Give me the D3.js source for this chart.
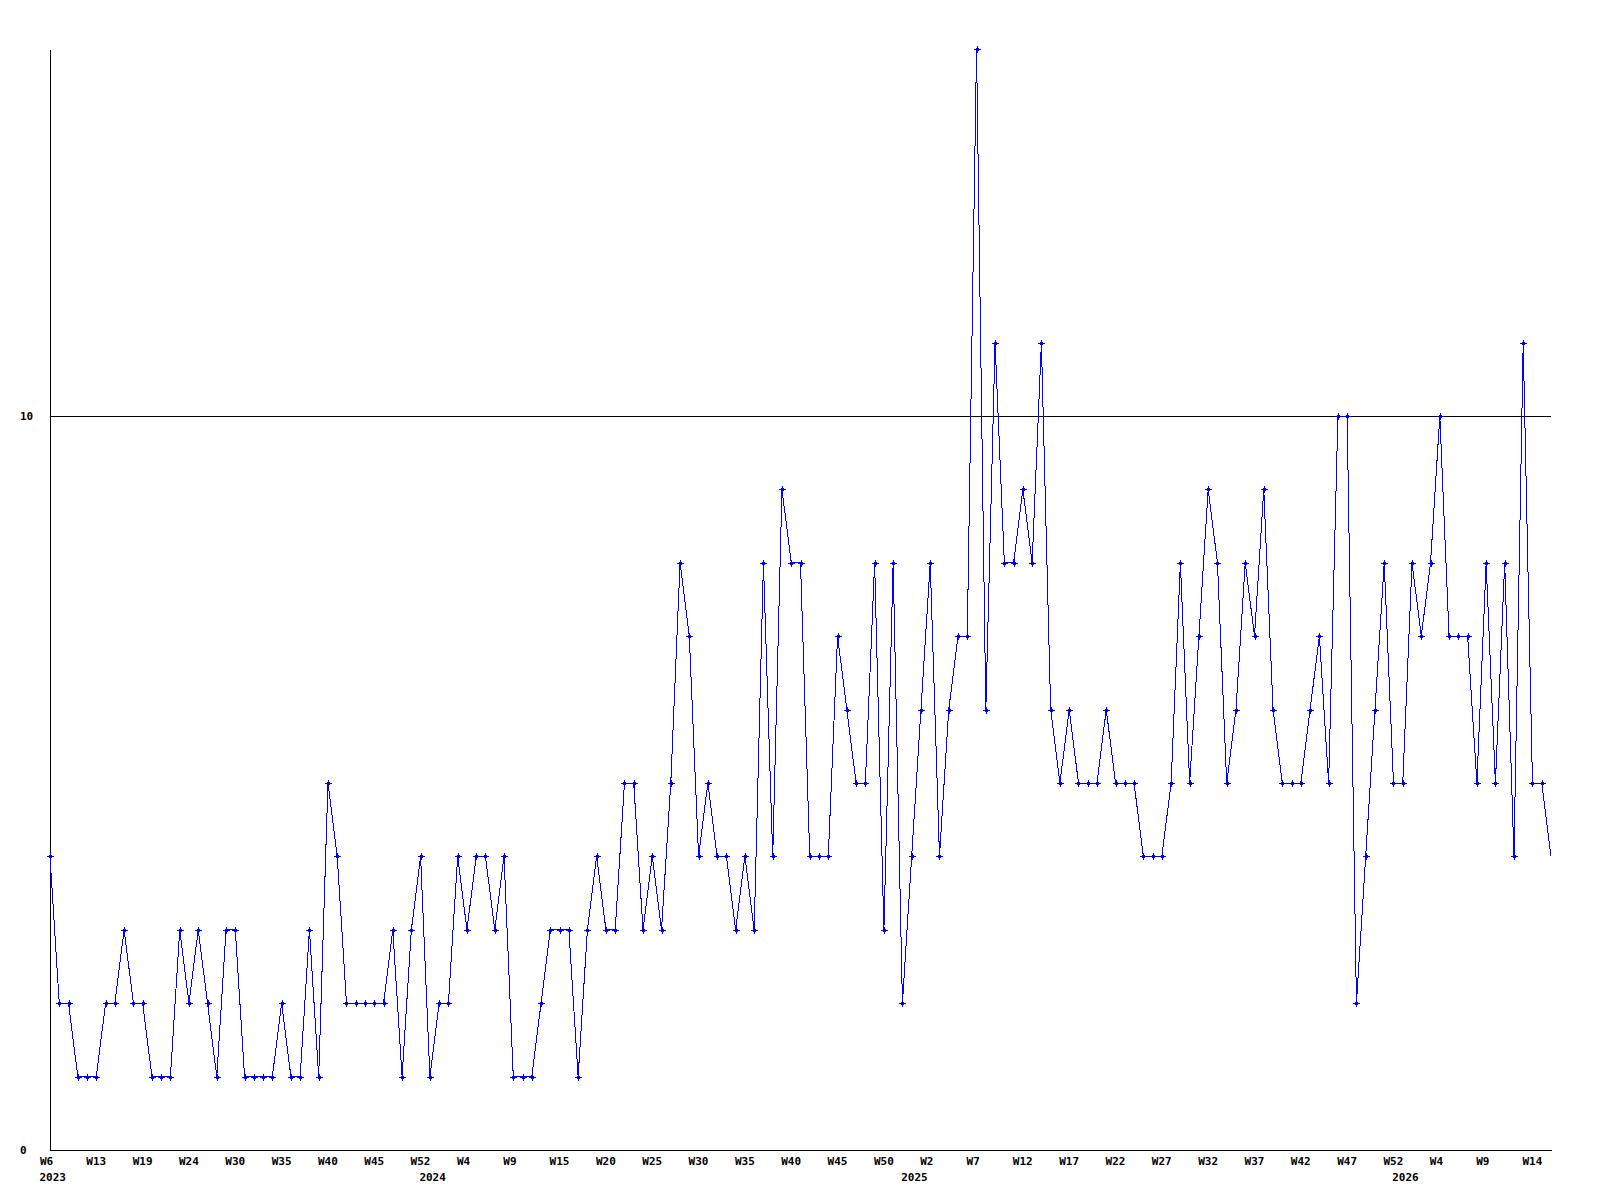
<!DOCTYPE html>
<html>
<head>
<meta charset="utf-8">
<script src="https://cdn.jsdelivr.net/npm/d3@7"></script>
<style>
  body { margin: 0; background: #fff; }
  svg { display: block; }
  text { font-family: "DejaVu Sans Mono", "Liberation Mono", monospace; font-weight: bold; font-size: 11px; fill: #000; }
</style>
</head>
<body>
<div id="chart"></div>
<script>
// weekly counts, 2023 W6 .. 2026 W15
const values = [
  4, 2, 2, 1, 1, 1, 2, 2, 3, 2,
  2, 1, 1, 1, 3, 2, 3, 2, 1, 3,
  3, 1, 1, 1, 1, 2, 1, 1, 3, 1,
  5, 4, 2, 2, 2, 2, 2, 3, 1, 3,
  4, 1, 2, 2, 4, 3, 4, 4, 3, 4,
  1, 1, 1, 2, 3, 3, 3, 1, 3, 4,
  3, 3, 5, 5, 3, 4, 3, 5, 8, 7,
  4, 5, 4, 4, 3, 4, 3, 8, 4, 9,
  8, 8, 4, 4, 4, 7, 6, 5, 5, 8,
  3, 8, 2, 4, 6, 8, 4, 6, 7, 7,
  15, 6, 11, 8, 8, 9, 8, 11, 6, 5,
  6, 5, 5, 5, 6, 5, 5, 5, 4, 4,
  4, 5, 8, 5, 7, 9, 8, 5, 6, 8,
  7, 9, 6, 5, 5, 5, 6, 7, 5, 10,
  10, 2, 4, 6, 8, 5, 5, 8, 7, 8,
  10, 7, 7, 7, 5, 8, 5, 8, 4, 11,
  5, 5, 4
];

// label every 5th point
const weekLabels = ["W6", "W13", "W19", "W24", "W30", "W35", "W40", "W45", "W52", "W4",
  "W9", "W15", "W20", "W25", "W30", "W35", "W40", "W45", "W50", "W2",
  "W7", "W12", "W17", "W22", "W27", "W32", "W37", "W42", "W47", "W52",
  "W4", "W9", "W14"];

const years = ["2023", "2024", "2025", "2026"];
const yearStart = [0, 41, 93, 146];   // index of first point of each year

const yTicks = [0, 10];

const W = 1600, H = 1200;
const plot = {left: 50, right: 1551, top: 49, bottom: 1150};

const svg = d3.select('#chart').append('svg').attr('width', W).attr('height', H);

const x = d3.scaleLinear().domain([0, values.length - 1]).range([plot.left, plot.right]);
const y = d3.scaleLinear().domain([0, 15]).range([plot.bottom, plot.top]);

// gridline at 10
svg.append('line')
    .attr('x1', plot.left).attr('x2', plot.right)
    .attr('y1', Math.round(y(10)) + 0.5).attr('y2', Math.round(y(10)) + 0.5)
    .attr('stroke', '#000').attr('stroke-width', 1)
    .attr('shape-rendering', 'crispEdges');

// x axis
const tickIdx = weekLabels.map((d, i) => i * 5);
const xAxis = svg.append('g')
    .attr('transform', `translate(0, ${plot.bottom})`)
    .call(d3.axisBottom(x).tickValues(tickIdx).tickSize(0).tickSizeOuter(0)
        .tickFormat((d, i) => weekLabels[i]));
xAxis.select('.domain').attr('stroke', '#000').attr('shape-rendering', 'crispEdges');
xAxis.selectAll('text')
    .attr('text-anchor', 'start')
    .attr('x', -10.5)
    .attr('dy', null)
    .attr('y', 15)
    .style('font-size', null).style('font-family', null);
xAxis.attr('font-size', null).attr('font-family', null);

// year labels
svg.selectAll('.year')
    .data(years)
    .enter()
    .append('text')
    .attr('class', 'year')
    .attr('x', (d, i) => x(yearStart[i]) - 10.5)
    .attr('y', plot.bottom + 31)
    .text(d => d);

// y axis
const yAxis = svg.append('g')
    .attr('transform', `translate(${plot.left}, 0)`)
    .call(d3.axisLeft(y).tickValues(yTicks).tickSize(0).tickSizeOuter(0).tickFormat(d3.format('d')));
yAxis.select('.domain').attr('stroke', '#000').attr('shape-rendering', 'crispEdges');
yAxis.selectAll('text')
    .attr('text-anchor', 'start')
    .attr('x', 20 - plot.left)
    .attr('dy', '0.35em')
    .style('font-size', null).style('font-family', null);
yAxis.attr('font-size', null).attr('font-family', null);

// series line
svg.append('path')
    .datum(values)
    .attr('fill', 'none')
    .attr('stroke', '#0000ff')
    .attr('stroke-width', 1)
    .attr('shape-rendering', 'crispEdges')
    .attr('d', d3.line()
        .x((d, i) => x(i))
        .y(d => y(d)));

// point markers, small plus shape (the last, still open week has none)
svg.selectAll('.mark')
    .data(values.slice(0, -1))
    .enter()
    .append('path')
    .attr('class', 'mark')
    .attr('transform', (d, i) => `translate(${Math.round(x(i))}, ${Math.round(y(d))})`)
    .attr('d', 'M-3,0H4V1H-3Z M0,-3H1V4H0Z M-1,-1H2V2H-1Z')
    .attr('fill', '#0000ff')
    .attr('shape-rendering', 'crispEdges');
</script>
</body>
</html>
